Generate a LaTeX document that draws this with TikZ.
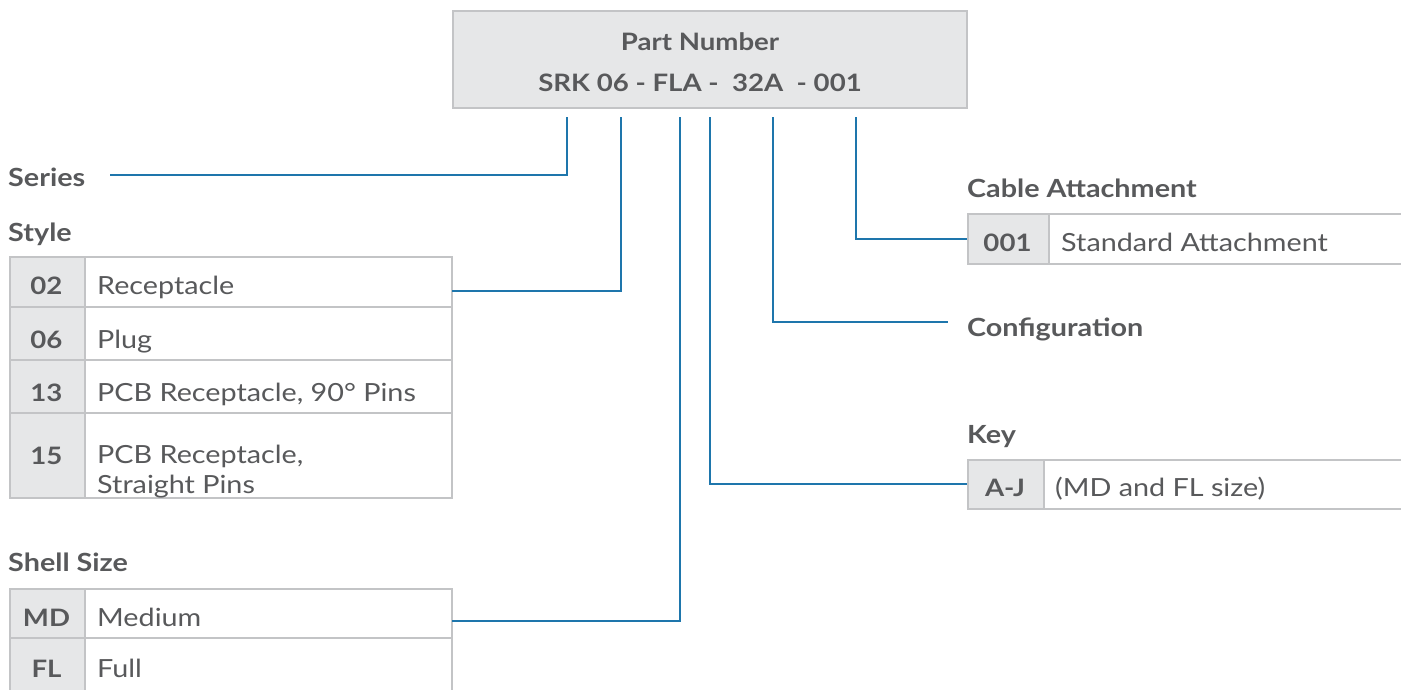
\documentclass[tikz,border=0pt]{standalone}
\usepackage{fontspec}
\setmainfont{Lato}[FakeStretch=1.15]
\definecolor{txt}{HTML}{58595B}
\definecolor{cellfill}{HTML}{E6E7E8}
\definecolor{cellline}{HTML}{C3C4C6}
\definecolor{conn}{HTML}{1E76AC}
\tikzset{
  regtxt/.style={font=\fontsize{25}{30}\selectfont, text=txt, inner sep=0pt, anchor=base west},
  boldtxt/.style={font=\fontsize{25}{30}\selectfont\bfseries, text=txt, inner sep=0pt, anchor=base west},
  codetxt/.style={font=\fontsize{24}{30}\selectfont\bfseries, text=txt, inner sep=0pt, anchor=base},
  codecell/.style={draw=cellline, line width=1.5pt, fill=cellfill, anchor=north west, inner sep=0pt},
  desccell/.style={draw=cellline, line width=1.5pt, fill=white, anchor=north west, inner sep=0pt},
  conline/.style={draw=conn, line width=2pt},
}
\begin{document}
\begin{tikzpicture}[x=1pt,y=-1pt]
\useasboundingbox (0,0) rectangle (1401,689);
\clip (0,0) rectangle (1401,689);
% top box
\node[codecell, minimum width=514pt, minimum height=97pt] (pn) at (452,10) {};
\node[codetxt, font=\fontsize{24}{30}\selectfont\bfseries] (pnt) at (700,50) {Part Number};
\node[codetxt, font=\fontsize{24}{30}\selectfont\bfseries] (pnc) at (700,91) {SRK 06 - FLA -\ \ 32A\ \ - 001};

% headings
\node[boldtxt] (hser) at (8,186) {Series};
\node[boldtxt] (hsty) at (8,241) {Style};
\node[boldtxt] (hshe) at (8,571) {Shell Size};
\node[boldtxt] (hcab) at (967,197) {Cable Attachment};
\node[boldtxt] (hcon) at (967,336) {Configuration};
\node[boldtxt] (hkey) at (967,443) {Key};

% style table
\node[codecell, minimum width=75pt, minimum height=50pt] (c02) at (9,256) {};
\node[desccell, minimum width=367pt, minimum height=50pt] (d02) at (84,256) {};
\node[codecell, minimum width=75pt, minimum height=53pt] (c06) at (9,306) {};
\node[desccell, minimum width=367pt, minimum height=53pt] (d06) at (84,306) {};
\node[codecell, minimum width=75pt, minimum height=53pt] (c13) at (9,359) {};
\node[desccell, minimum width=367pt, minimum height=53pt] (d13) at (84,359) {};
\node[codecell, minimum width=75pt, minimum height=85pt] (c15) at (9,412) {};
\node[desccell, minimum width=367pt, minimum height=85pt] (d15) at (84,412) {};

\node[codetxt] (t02) at (46.5,294) {02};
\node[regtxt] (x02) at (97,294) {Receptacle};
\node[codetxt] (t06) at (46.5,348) {06};
\node[regtxt] (x06) at (97,348) {Plug};
\node[codetxt] (t13) at (46.5,401) {13};
\node[regtxt] (x13) at (97,401) {PCB Receptacle, 90° Pins};
\node[codetxt] (t15) at (46.5,464) {15};
\node[regtxt] (x15a) at (97,463) {PCB Receptacle,};
\node[regtxt] (x15b) at (97,493) {Straight Pins};

% shell size table
\node[codecell, minimum width=75pt, minimum height=49pt] (cmd) at (9,588) {};
\node[desccell, minimum width=367pt, minimum height=49pt] (dmd) at (84,588) {};
\node[codecell, minimum width=75pt, minimum height=56pt] (cfl) at (9,637) {};
\node[desccell, minimum width=367pt, minimum height=56pt] (dfl) at (84,637) {};
\node[codetxt] (tmd) at (46.5,626) {MD};
\node[regtxt] (xmd) at (97,626) {Medium};
\node[codetxt] (tfl) at (46.5,677) {FL};
\node[regtxt] (xfl) at (97,677) {Full};

% cable attachment
\node[codecell, minimum width=81pt, minimum height=50pt] (c001) at (967,213) {};
\node[desccell, minimum width=360pt, minimum height=50pt] (d001) at (1048,213) {};
\node[codetxt] (t001) at (1007.5,251) {001};
\node[regtxt] (x001) at (1061,251) {Standard Attachment};

% key
\node[codecell, minimum width=76pt, minimum height=49pt] (caj) at (967,459) {};
\node[desccell, minimum width=365pt, minimum height=49pt] (daj) at (1043,459) {};
\node[codetxt] (taj) at (1005,496) {A-J};
\node[regtxt] (xaj) at (1055,496) {(MD and FL size)};

% connectors
\coordinate (t1) at (567,117);
\coordinate (t2) at (621,117);
\coordinate (t3) at (680,117);
\coordinate (t4) at (710,117);
\coordinate (t5) at (773,117);
\coordinate (t6) at (856,117);
\coordinate (eser) at (110,175);
\coordinate (esty) at (452,291);
\coordinate (eshe) at (452,621);
\coordinate (econ) at (948,322);

\draw[conline] (t1) |- (eser);
\draw[conline] (t2) |- (esty);
\draw[conline] (t3) |- (eshe);
\draw[conline] (t4) |- (caj.west);
\draw[conline] (t5) |- (econ);
\draw[conline] (t6) |- (c001.west);
\end{tikzpicture}
\end{document}
